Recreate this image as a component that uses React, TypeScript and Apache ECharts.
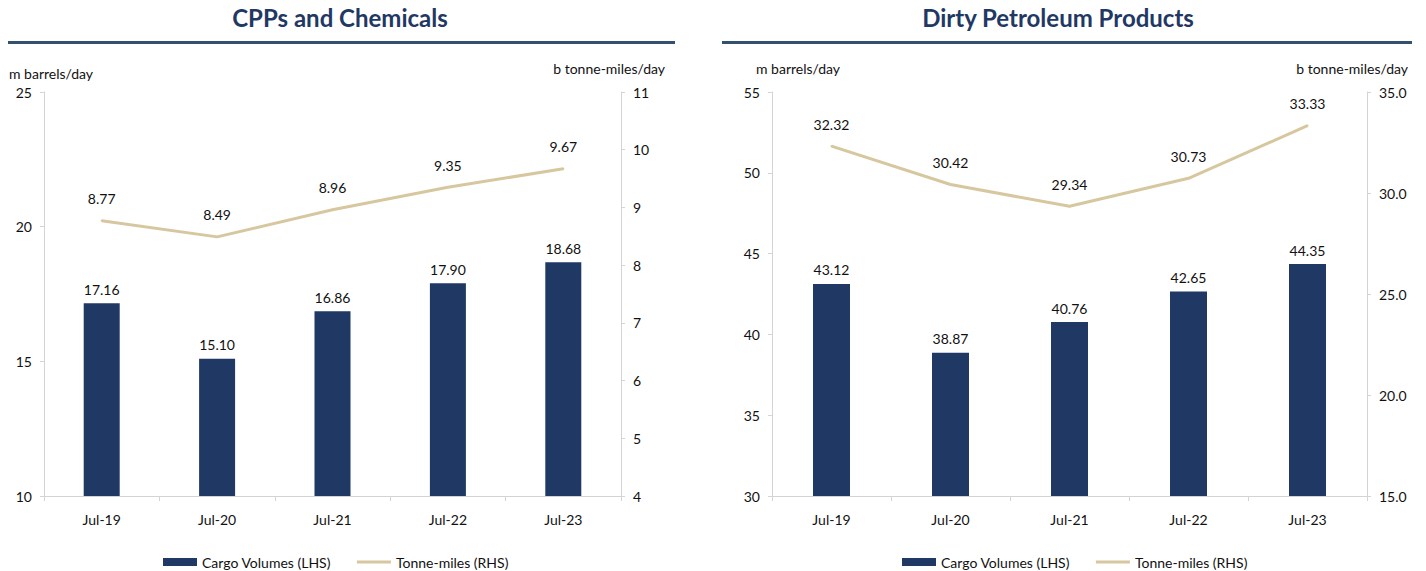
import React, { useEffect, useRef } from "react";
import * as echarts from "echarts";

const categories = ["Jul-19", "Jul-20", "Jul-21", "Jul-22", "Jul-23"];

const cppCargo = [17.16, 15.1, 16.86, 17.9, 18.68];
const cppTonneMiles = [8.77, 8.49, 8.96, 9.35, 9.67];

const dppCargo = [43.12, 38.87, 40.76, 42.65, 44.35];
const dppTonneMiles = [32.32, 30.42, 29.34, 30.73, 33.33];

const titles = ["CPPs and Chemicals", "Dirty Petroleum Products"];
const cargoName = "Cargo Volumes (LHS)";
const tonneName = "Tonne-miles (RHS)";
const leftUnit = "m barrels/day";
const rightUnit = "b tonne-miles/day";

const NAVY = "#1f3864";
const BEIGE = "#d7c79f";
const AXIS = "#d4d4d4";
const FONT = "Lato, 'Open Sans', sans-serif";

export default function App() {
  const ref = useRef<HTMLDivElement>(null);

  useEffect(() => {
    if (!ref.current) return;
    const chart = echarts.init(ref.current, null, { renderer: "svg" });

    const valueAxis = (gridIndex: number, position: "left" | "right", min: number, max: number, interval: number, decimals: number) => ({
      type: "value",
      gridIndex,
      position,
      min,
      max,
      interval,
      splitLine: { show: false },
      axisLine: { show: true, lineStyle: { color: AXIS, width: 1 } },
      axisTick: { show: true, length: 4, lineStyle: { color: AXIS } },
      axisLabel: {
        margin: 12,
        color: "#111",
        fontSize: 14,
        fontFamily: FONT,
        formatter: (v: number) => v.toFixed(decimals),
      },
    });

    const catAxis = (gridIndex: number) => ({
      type: "category",
      gridIndex,
      data: categories,
      axisLine: { show: true, lineStyle: { color: AXIS, width: 1 } },
      axisTick: { show: true, length: 5, alignWithLabel: false, lineStyle: { color: AXIS } },
      axisLabel: { margin: 16, color: "#111", fontSize: 14, fontFamily: FONT },
    });

    const barSeries = (idx: number, data: number[], width: number) => ({
      name: cargoName,
      type: "bar",
      xAxisIndex: idx,
      yAxisIndex: idx * 2,
      data,
      barWidth: width,
      itemStyle: { color: NAVY },
      label: {
        show: true,
        position: "top",
        distance: 7,
        color: "#111",
        fontSize: 14,
        fontFamily: FONT,
        formatter: (p: any) => p.value.toFixed(2),
      },
    });

    const lineSeries = (idx: number, data: number[]) => ({
      name: tonneName,
      type: "line",
      xAxisIndex: idx,
      yAxisIndex: idx * 2 + 1,
      data,
      symbol: "circle",
      symbolSize: 2,
      showSymbol: true,
      lineStyle: { color: BEIGE, width: 3 },
      itemStyle: { color: BEIGE },
      label: {
        show: true,
        position: "top",
        distance: 14,
        color: "#111",
        fontSize: 14,
        fontFamily: FONT,
        formatter: (p: any) => p.value.toFixed(2),
      },
    });

    const legend = (left: number) => ({
      left,
      top: 550,
      itemWidth: 34,
      itemHeight: 8,
      itemGap: 26,
      textStyle: { color: "#111", fontSize: 14, fontFamily: FONT },
      data: [
        { name: cargoName, icon: "rect" },
        { name: tonneName, icon: "path://M0,0H34V3H0Z", itemStyle: { color: BEIGE } },
      ],
    });

    const text = (x: number, y: number, str: string, align: string, size: number, bold = false, color = "#111") => ({
      type: "text",
      x,
      y,
      style: {
        text: str,
        textAlign: align,
        textVerticalAlign: "middle",
        fontSize: size,
        fontWeight: bold ? "bold" : "normal",
        fontFamily: FONT,
        fill: color,
      },
    });

    chart.setOption({
      animation: false,
      backgroundColor: "#fff",
      grid: [
        { left: 44, right: 1426 - 621, top: 92, bottom: 571 - 496 },
        { left: 772, right: 1426 - 1367, top: 92, bottom: 571 - 496 },
      ],
      xAxis: [catAxis(0), catAxis(1)],
      yAxis: [
        valueAxis(0, "left", 10, 25, 5, 0),
        valueAxis(0, "right", 4, 11, 1, 0),
        valueAxis(1, "left", 30, 55, 5, 0),
        valueAxis(1, "right", 15, 35, 5, 1),
      ],
      legend: [legend(158), legend(897)],
      series: [
        barSeries(0, cppCargo, 36),
        lineSeries(0, cppTonneMiles),
        barSeries(1, dppCargo, 37),
        lineSeries(1, dppTonneMiles),
      ],
      graphic: [
        text(340, 17, titles[0], "center", 24, true, NAVY),
        text(1058, 17, titles[1], "center", 24, true, NAVY),
        { type: "rect", shape: { x: 8, y: 41, width: 667, height: 3 }, style: { fill: "#34506f" } },
        { type: "rect", shape: { x: 722, y: 41, width: 690, height: 3 }, style: { fill: "#34506f" } },
        text(9, 73, leftUnit, "left", 14),
        text(665, 68, rightUnit, "right", 14),
        text(756, 68, leftUnit, "left", 14),
        text(1408, 68, rightUnit, "right", 14),
      ],
    });

    return () => chart.dispose();
  }, []);

  return (
    <div
      ref={ref}
      style={{ position: "fixed", left: 0, top: 0, width: 1426, height: 571, background: "#fff" }}
    />
  );
}
